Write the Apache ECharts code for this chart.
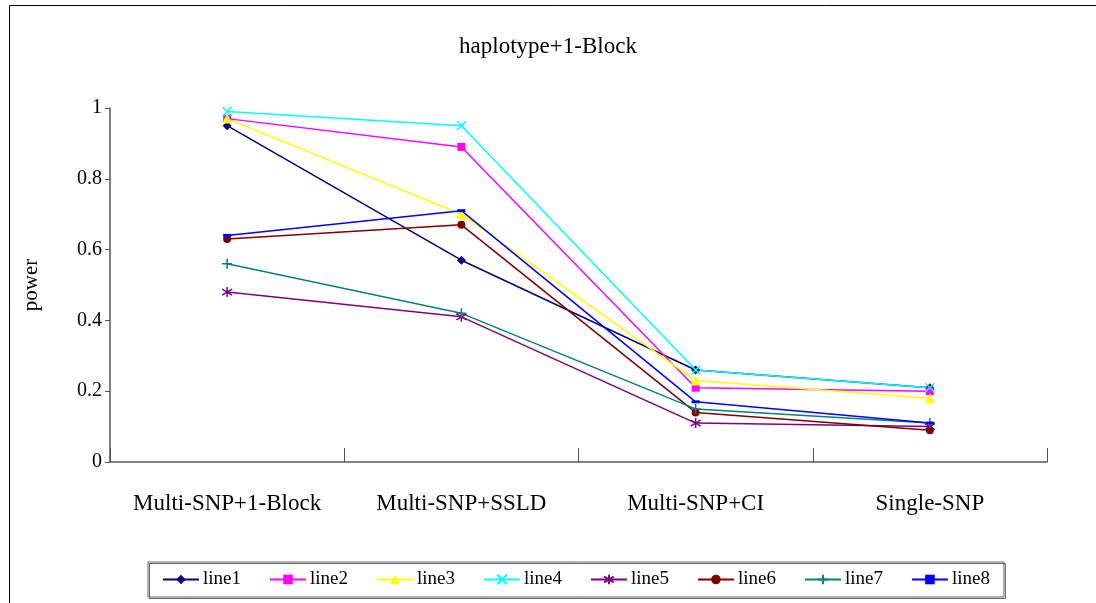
<!DOCTYPE html>
<html>
<head>
<meta charset="utf-8">
<script src="https://cdn.jsdelivr.net/npm/echarts@6/dist/echarts.min.js"></script>
<style>
  html, body { margin: 0; padding: 0; background: #fff; }
  #chart { width: 1096px; height: 603px; }
</style>
</head>
<body>
<div id="chart"></div>
<script>
// Methods compared on the x axis
const categories = ['Multi-SNP+1-Block', 'Multi-SNP+SSLD', 'Multi-SNP+CI', 'Single-SNP'];
const yTicks = [0, 0.2, 0.4, 0.6, 0.8, 1];

// Power of each configuration per method
const line1 = [0.95, 0.57, 0.26, 0.21];
const line2 = [0.97, 0.89, 0.21, 0.20];
const line3 = [0.97, 0.70, 0.23, 0.18];
const line4 = [0.99, 0.95, 0.26, 0.21];
const line5 = [0.48, 0.41, 0.11, 0.10];
const line6 = [0.63, 0.67, 0.14, 0.09];
const line7 = [0.56, 0.42, 0.15, 0.11];
const line8 = [0.64, 0.71, 0.17, 0.11];

const FONT = 'Liberation Serif';

// Marker shapes
const crossX = 'path://M0,0L10,10M10,0L0,10';
const star = 'path://M5,0L5,10M0,2L10,8M10,2L0,8';
const plus = 'path://M5,0L5,10M0,5L10,5';

const seriesDefs = [
  { name: 'line1', data: line1, color: '#000080', symbol: 'diamond', size: 9 },
  { name: 'line2', data: line2, color: '#FF00FF', symbol: 'rect', size: 8 },
  { name: 'line3', data: line3, color: '#FFFF00', symbol: 'triangle', size: 10 },
  { name: 'line4', data: line4, color: '#00FFFF', symbol: crossX, size: 9, stroke: true },
  { name: 'line5', data: line5, color: '#800080', symbol: star, size: 10, stroke: true },
  { name: 'line6', data: line6, color: '#800000', symbol: 'circle', size: 8 },
  { name: 'line7', data: line7, color: '#008080', symbol: plus, size: 10, stroke: true },
  { name: 'line8', data: line8, color: '#0000FF', symbol: 'rect', size: [8, 3] }
];

const series = seriesDefs.map(d => ({
  name: d.name,
  type: 'line',
  data: d.data,
  symbol: d.symbol,
  symbolSize: d.size,
  showAllSymbol: true,
  lineStyle: { color: d.color, width: 1.5 },
  itemStyle: d.stroke
    ? { color: 'none', borderColor: d.color, borderWidth: 1.5 }
    : { color: d.color, borderWidth: 0 },
  emphasis: { disabled: true },
  animation: false
}));

const chart = echarts.init(document.getElementById('chart'), null, { renderer: 'canvas' });
chart.setOption({
  backgroundColor: '#fff',
  animation: false,
  textStyle: { fontFamily: FONT, color: '#000' },
  title: {
    text: 'haplotype+1-Block',
    left: 'center',
    top: 30,
    textStyle: { fontFamily: FONT, fontSize: 23, fontWeight: 'normal', color: '#000' }
  },
  graphic: [{
    type: 'polyline',
    shape: { points: [[9.5, 620], [9.5, 5.5], [1110, 5.5]] },
    style: { stroke: '#000', lineWidth: 1, fill: null },
    silent: true
  }],
  grid: { left: 110, right: 49, top: 108, bottom: 141 },
  legend: {
    bottom: 6,
    left: 148,
    itemWidth: 36,
    itemHeight: 12,
    itemGap: 28,
    padding: [8, 14, 8, 14],
    borderColor: '#666',
    borderWidth: 1,
    shadowColor: 'rgba(0,0,0,0.6)',
    shadowBlur: 0,
    shadowOffsetX: 1.5,
    shadowOffsetY: 1.5,
    textStyle: { fontFamily: FONT, fontSize: 19, color: '#000', padding: [0, 0, 0, -1] },
    data: seriesDefs.map(d => d.name)
  },
  xAxis: {
    type: 'category',
    data: categories,
    boundaryGap: true,
    axisLine: { lineStyle: { color: '#555', width: 1.5 } },
    axisTick: { show: true, inside: true, length: 14, interval: 0, lineStyle: { color: '#555', width: 1 } },
    axisLabel: { fontFamily: FONT, fontSize: 23, color: '#000', margin: 30, interval: 0, hideOverlap: false },
    splitLine: { show: false }
  },
  yAxis: {
    type: 'value',
    min: yTicks[0],
    max: yTicks[yTicks.length - 1],
    interval: 0.2,
    name: 'power',
    nameLocation: 'middle',
    nameGap: 68,
    nameTextStyle: { fontFamily: FONT, fontSize: 21, color: '#000' },
    axisLine: { show: true, lineStyle: { color: '#555', width: 1.5 } },
    axisTick: { show: true, length: 5, lineStyle: { color: '#555' } },
    axisLabel: {
      fontFamily: FONT, fontSize: 20, color: '#000', margin: 8,
      formatter: v => String(Math.round(v * 10) / 10)
    },
    splitLine: { show: false }
  },
  series: series
});
</script>
</body>
</html>
